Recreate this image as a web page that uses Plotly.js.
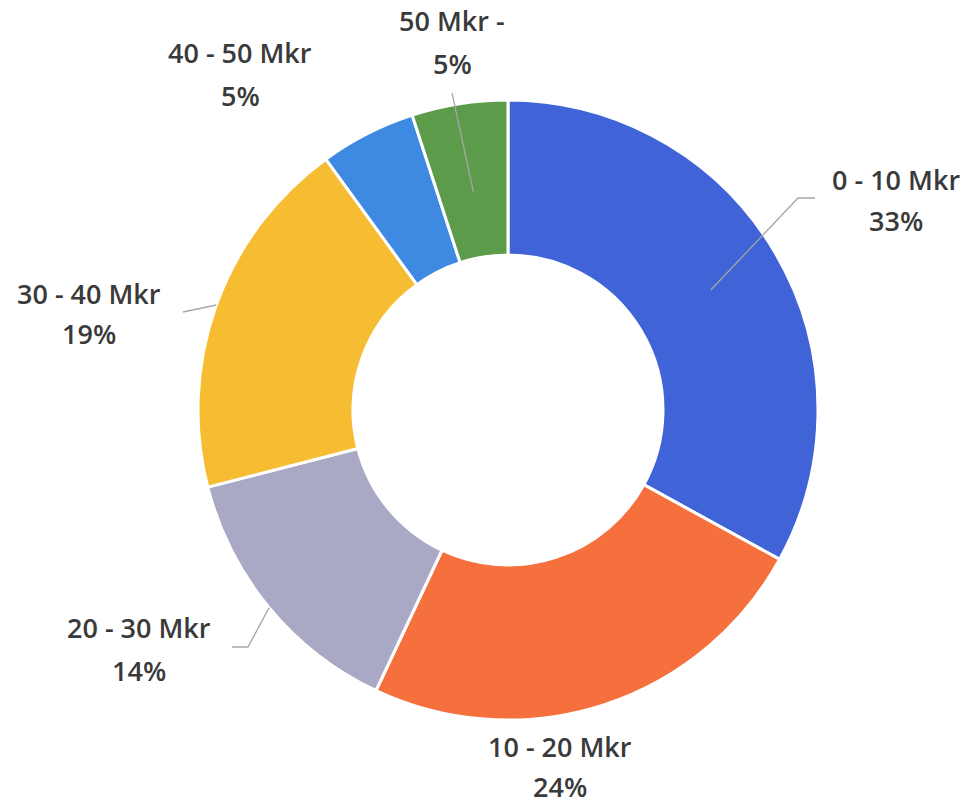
<!DOCTYPE html>
<html>
<head>
<meta charset="utf-8">
<script src="https://cdn.plot.ly/plotly-3.0.1.min.js"></script>
<style>html,body{margin:0;padding:0;background:#fff;}#chart{width:975px;height:807px;}</style>
</head>
<body>
<div id="chart"></div>
<script>
// ---- data ----
const categories = ['0 - 10 Mkr', '10 - 20 Mkr', '20 - 30 Mkr', '30 - 40 Mkr', '40 - 50 Mkr', '50 Mkr -'];
const values = [33, 24, 14, 19, 5, 5];
const sliceColors = ['#4063D8', '#F5703D', '#A9A8C5', '#F6BD33', '#3E8AE2', '#5B9B4A'];

// ---- layout config (pixels) ----
const W = 975, H = 807;
const cx = 508, cy = 410, R = 310;
const holeFrac = 0.5;
// label line centres and leader lines (start radius fraction, then bend/end points)
const labelCfg = [
  {x: 896, y1: 179, y2: 221, line: {r0: 0.76, pts: [[798, 198], [815, 198]]}},
  {x: 560, y1: 746, y2: 786, line: null},
  {x: 139, y1: 627, y2: 670, line: {r0: 1.0, pts: [[248, 647], [232, 647]]}},
  {x: 89,  y1: 293, y2: 334, line: {r0: 1.0, pts: [[183, 312]]}},
  {x: 240, y1: 52,  y2: 95,  line: null},
  {x: 452, y1: 20,  y2: 64,  line: {r0: 0.71, pts: [[452, 93]]}}
];

const px = x => x / W;
const py = y => 1 - y / H;
const textFont = {family: 'Open Sans, sans-serif', size: 27, color: '#3A3A3A', weight: 600};

const total = values.reduce((a, b) => a + b, 0);
let cum = 0;
const annotations = [];
const shapes = [];
values.forEach((v, i) => {
  const mid = (cum + v / 2) / total * 2 * Math.PI; // clockwise from 12 o'clock
  cum += v;
  const cfg = labelCfg[i];
  const pct = Math.round(v / total * 100);
  annotations.push({
    x: px(cfg.x), y: py(cfg.y1), xref: 'paper', yref: 'paper',
    xanchor: 'center', yanchor: 'middle', showarrow: false,
    text: categories[i], font: textFont
  });
  annotations.push({
    x: px(cfg.x), y: py(cfg.y2), xref: 'paper', yref: 'paper',
    xanchor: 'center', yanchor: 'middle', showarrow: false,
    text: pct + '%', font: textFont
  });
  if (cfg.line) {
    const sx = cx + Math.sin(mid) * R * cfg.line.r0;
    const sy = cy - Math.cos(mid) * R * cfg.line.r0;
    let path = 'M' + px(sx) + ',' + py(sy);
    cfg.line.pts.forEach(p => { path += ' L' + px(p[0]) + ',' + py(p[1]); });
    shapes.push({type: 'path', xref: 'paper', yref: 'paper', path: path,
      line: {color: '#A6A6A6', width: 1.3}});
  }
});

const trace = {
  type: 'pie',
  labels: categories,
  values: values,
  sort: false,
  direction: 'clockwise',
  rotation: 0,
  hole: holeFrac,
  textinfo: 'none',
  hoverinfo: 'none',
  showlegend: false,
  marker: {colors: sliceColors, line: {color: '#FFFFFF', width: 3}},
  domain: {x: [px(cx - R), px(cx + R)], y: [py(cy + R), py(cy - R)]}
};

const layout = {
  width: W, height: H,
  margin: {l: 0, r: 0, t: 0, b: 0},
  paper_bgcolor: '#FFFFFF',
  showlegend: false,
  annotations: annotations,
  shapes: shapes
};

Plotly.newPlot('chart', [trace], layout, {displayModeBar: false, staticPlot: true});
</script>
</body>
</html>
